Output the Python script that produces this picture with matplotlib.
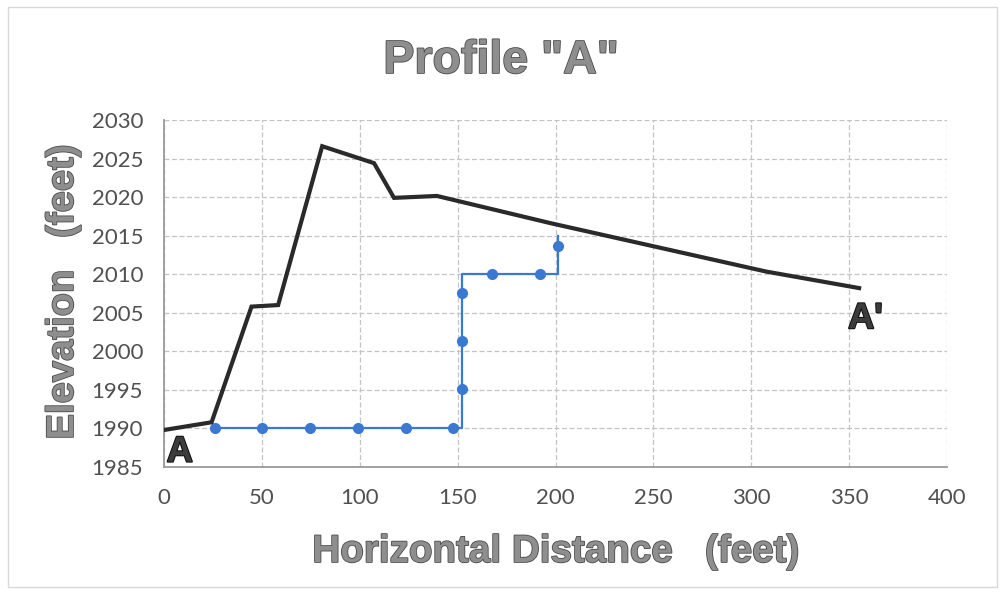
import matplotlib.pyplot as plt
import matplotlib.patheffects as pe
from matplotlib.patches import Rectangle

# Profil permukaan tanah (garis hitam)
jarak_profil = [0, 24.3, 44.7, 58.3, 80.8, 107.3, 117.5, 139.4, 197.8, 307.5, 355.1]
elevasi_profil = [1989.8, 1990.8, 2005.8, 2006.0, 2026.6, 2024.4, 2019.9, 2020.15, 2016.6, 2010.35, 2008.2]

# Garis bertingkat (biru) - jalur
jarak_jalur = [26, 50.3, 74.7, 99.2, 123.5, 147.6, 152, 152, 152, 152, 152, 167.7, 192, 201.2, 201.2]
elevasi_jalur = [1990, 1990, 1990, 1990, 1990, 1990, 1990, 1995.1, 2001.3, 2007.55, 2010, 2010, 2010, 2010, 2014.9]

# Titik-titik biru
jarak_titik = [26, 50.3, 74.7, 99.2, 123.5, 147.6, 152, 152, 152, 167.7, 192, 201.2]
elevasi_titik = [1990, 1990, 1990, 1990, 1990, 1990, 1995.1, 2001.3, 2007.55, 2010, 2010, 2013.7]

x_ticks = [0, 50, 100, 150, 200, 250, 300, 350, 400]
y_ticks = [1985, 1990, 1995, 2000, 2005, 2010, 2015, 2020, 2025, 2030]

fig = plt.figure(figsize=(10.05, 5.94), dpi=100)
ax = fig.add_axes([0.1632, 0.2138, 0.7791, 0.5842])

ax.plot(jarak_jalur, elevasi_jalur, color='#3b78d0', lw=1.6, zorder=3)
ax.plot(jarak_titik, elevasi_titik, 'o', color='#3b78d0', ms=7, zorder=4)
ax.plot(jarak_profil, elevasi_profil, color='#2a2a2a', lw=3, solid_joinstyle='miter', zorder=5)

ax.set_xlim(0, 400)
ax.set_ylim(1985, 2030)
ax.set_xticks(x_ticks)
ax.set_yticks(y_ticks)
ax.grid(True, color='#c4c4c4', linestyle=(0, (4, 2)), lw=0.9)
ax.set_axisbelow(True)
for s in ['top', 'right']:
    ax.spines[s].set_visible(False)
for s in ['left', 'bottom']:
    ax.spines[s].set_color('#9a9a9a')
    ax.spines[s].set_linewidth(1.3)
ax.tick_params(length=0, labelsize=16, labelcolor='#505050', pad=15)
for lbl in ax.get_xticklabels() + ax.get_yticklabels():
    lbl.set_family('Lato')

garis = [pe.Stroke(linewidth=1.2, foreground='#4a4a4a'), pe.Normal()]
fig.text(501 / 1005, 1 - 73 / 594, 'Profile "A"', ha='center', va='baseline',
         fontsize=33.5, fontweight='bold', family='Liberation Sans', color='#8e8e8e', path_effects=garis)
fig.text(556 / 1005, 1 - 562 / 594, 'Horizontal Distance   (feet)', ha='center', va='baseline',
         fontsize=27.8, fontweight='bold', family='Liberation Sans', color='#8e8e8e', path_effects=garis)
fig.text(63 / 1005, 1 - 292 / 594, 'Elevation   (feet)', ha='center', va='center', rotation=90,
         fontsize=27.5, fontweight='bold', family='Liberation Sans', color='#8e8e8e', path_effects=garis)

huruf = [pe.Stroke(linewidth=1.5, foreground='#111111'), pe.Normal()]
ax.text(1.4, 1985.7, 'A', ha='left', va='baseline', fontsize=26, fontweight='bold',
        family='Liberation Sans', color='#3c3c3c', path_effects=huruf, zorder=6)
ax.text(349.5, 2003.0, "A'", ha='left', va='baseline', fontsize=26, fontweight='bold',
        family='Liberation Sans', color='#3c3c3c', path_effects=huruf, zorder=6)

# bingkai grafik
fig.patches.append(Rectangle((0.008, 0.012), 0.984, 0.976, transform=fig.transFigure,
                             fill=False, edgecolor='#d8d8d8', lw=1))

plt.savefig('out.png', dpi=100)
